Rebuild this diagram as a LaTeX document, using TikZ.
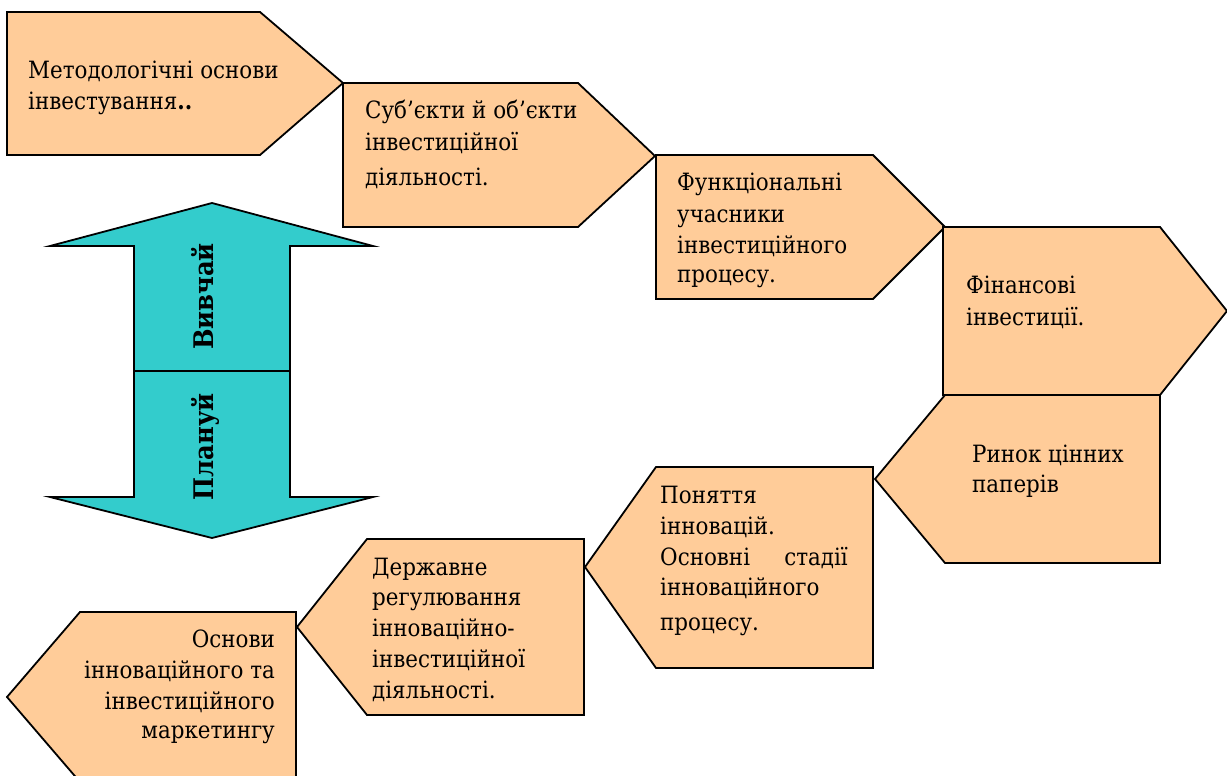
\documentclass[tikz,border=0pt]{standalone}
\usepackage{fontspec}
\setmainfont{DejaVu Serif Condensed}
\definecolor{peach}{HTML}{FFCC99}
\definecolor{teal}{HTML}{33CCCC}
\begin{document}
\begin{tikzpicture}[x=1pt,y=-1pt,
  boxshape/.style={fill=peach,draw=black,line width=1.8pt,line join=miter},
  arrowshape/.style={fill=teal,draw=black,line width=1.8pt,line join=miter},
  txt/.style={inner sep=0pt,font=\fontsize{23.8}{28}\selectfont},
  lbl/.style={inner sep=0pt,rotate=90,anchor=base,font=\fontsize{27}{32}\selectfont\bfseries}]
\useasboundingbox (0,0) rectangle (1227,776);
% box 1
\draw[boxshape] (7,12) -- (260,12) -- (343,83) -- (260,155) -- (7,155) -- cycle;
\node[txt,anchor=base west] (t1a) at (28,78) {Методологічні основи};
\node[txt,anchor=base west] (t1b) at (28,110) {інвестування\textbf{..}};
% box 2
\draw[boxshape] (343,83) -- (578,83) -- (655,156) -- (578,227) -- (343,227) -- cycle;
\node[txt,anchor=base west] (t2a) at (365,118) {Суб’єкти й об’єкти};
\node[txt,anchor=base west] (t2b) at (365,150) {інвестиційної};
\node[txt,anchor=base west] (t2c) at (365,185) {діяльності.};
% box 3
\draw[boxshape] (656,155) -- (873,155) -- (945,227) -- (873,299) -- (656,299) -- cycle;
\node[txt,anchor=base west] (t3a) at (677,190) {Функціональні};
\node[txt,anchor=base west] (t3b) at (677,222) {учасники};
\node[txt,anchor=base west] (t3c) at (677,253) {інвестиційного};
\node[txt,anchor=base west] (t3d) at (677,282) {процесу.};
% box 4
\draw[boxshape] (943,227) -- (1160,227) -- (1227,311) -- (1160,395) -- (943,395) -- cycle;
\node[txt,anchor=base west] (t4a) at (966,293) {Фінансові};
\node[txt,anchor=base west] (t4b) at (966,325) {інвестиції.};
% box 5
\draw[boxshape] (1160,395) -- (1160,563) -- (945,563) -- (875,479) -- (945,395) -- cycle;
\node[txt,anchor=base west] (t5a) at (972,462) {Ринок цінних};
\node[txt,anchor=base west] (t5b) at (972,492) {паперів};
% box 6
\draw[boxshape] (873,467) -- (873,668) -- (656,668) -- (585,567) -- (656,467) -- cycle;
\node[txt,anchor=base west] (t6a) at (660,503) {Поняття};
\node[txt,anchor=base west] (t6b) at (660,534) {інновацій.};
\node[txt,anchor=base west] (t6c) at (660,565) {Основні};
\node[txt,anchor=base east] (t6d) at (848,565) {стадії};
\node[txt,anchor=base west] (t6e) at (660,595) {інноваційного};
\node[txt,anchor=base west] (t6f) at (660,630) {процесу.};
% box 7
\draw[boxshape] (584,539) -- (584,715) -- (367,715) -- (297,627) -- (367,539) -- cycle;
\node[txt,anchor=base west] (t7a) at (372,575) {Державне};
\node[txt,anchor=base west] (t7b) at (372,605) {регулювання};
\node[txt,anchor=base west] (t7c) at (372,636) {інноваційно-};
\node[txt,anchor=base west] (t7d) at (372,667) {інвестиційної};
\node[txt,anchor=base west] (t7e) at (372,698) {діяльності.};
% box 8
\draw[boxshape] (296,612) -- (296,782) -- (80,782) -- (7,697) -- (80,612) -- cycle;
\node[txt,anchor=base east] (t8a) at (275,647) {Основи};
\node[txt,anchor=base east] (t8b) at (275,678) {інноваційного та};
\node[txt,anchor=base east] (t8c) at (275,709) {інвестиційного};
\node[txt,anchor=base east] (t8d) at (275,738) {маркетингу};
% double arrow
\draw[arrowshape] (212,203) -- (373,246) -- (290,246) -- (290,497) -- (373,497)
  -- (212,538) -- (50,497) -- (134,497) -- (134,246) -- (50,246) -- cycle;
\draw[line width=1.8pt] (134,371) -- (290,371);
\node[lbl] (study) at (213,296.5) {Вивчай};
\node[lbl] (plan) at (213,447) {Плануй};
\end{tikzpicture}
\end{document}
